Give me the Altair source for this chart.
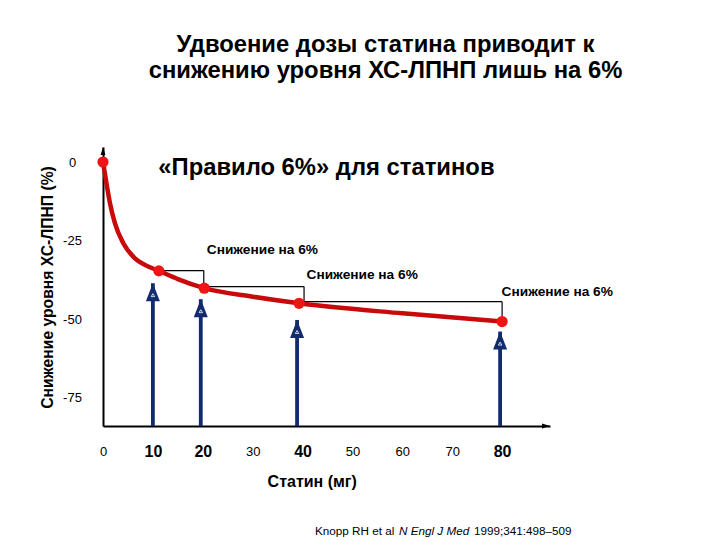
import altair as alt
import pandas as pd

FONT = "Liberation Sans"

# ---- text ----
title_lines = ["Удвоение дозы статина приводит к", "снижению уровня ХС-ЛПНП лишь на 6%"]
subtitle = "«Правило 6%» для статинов"
x_title = "Статин (мг)"
y_title = "Снижение уровня ХС-ЛПНП (%)"
step_label = "Снижение на 6%"
cite_parts = ["Knopp RH et al", "N Engl J Med", "1999;341:498–509"]

# ---- ticks ----
x_ticks = [0, 10, 20, 30, 40, 50, 60, 70, 80]
x_bold_ticks = [10, 20, 40, 80]
y_ticks = [0, -25, -50, -75]

# ---- curve ----
curve_dose = [0, 0.7, 1.4, 2.4, 4.1, 6.4, 8.4, 11.2, 15, 20.3, 30, 39.3, 60, 80]
curve_ldl = [0, -6.8, -13.1, -19.5, -25.9, -30.6, -32.7, -34.6, -37.2, -40.1, -42.8, -44.9, -48.1, -50.7]

# ---- dose points ----
point_dose = [0, 11.2, 20.3, 39.3, 80]
point_ldl = [0, -34.6, -40.1, -44.9, -50.7]

# ---- arrows ----
arrow_dose = [10, 19.6, 38.9, 79.6]
arrow_tip = [-38.5, -43.6, -50.2, -53.9]
axis_bottom = -83.9
axis_top = 4.77
x_max = 89.6

# ---- step brackets ----
bracket_start = [11.2, 20.3, 39.3]
bracket_end = [20.2, 40.3, 80.0]
bracket_top = [-34.5, -39.6, -44.4]
bracket_bottom = [-40.1, -44.9, -50.7]

# ---- step labels ----
label_dose = [20.8, 40.8, 79.9]
label_ldl = [-28.0, -35.9, -41.4]

W, H = 447, 279
RED_LINE = "#c80a0a"
RED_PT = "#f01414"
NAVY = "#112b6e"

x_scale = alt.Scale(domain=[0, x_max], nice=False, zero=False)
y_scale = alt.Scale(domain=[axis_bottom, axis_top], nice=False, zero=False)

bold_test = "indexof([" + ",".join(str(v) for v in x_bold_ticks) + "], datum.value) >= 0"

x_axis = alt.Axis(
    values=x_ticks, title=x_title, grid=False, ticks=False, tickSize=0,
    domainColor="black", domainWidth=2, labelPadding=25, labelBaseline="middle",
    labelFontSize={"condition": {"test": bold_test, "value": 16}, "value": 13},
    labelFontWeight={"condition": {"test": bold_test, "value": "bold"}, "value": "normal"},
    labelColor="black", labelFlush=False, labelOverlap=False,
    titleX=208.7, titleY=55.7, titleBaseline="middle", titleAlign="center",
    titleFontSize=16, titleFontWeight="bold", titleColor="black",
)
y_axis = alt.Axis(
    values=y_ticks, title=y_title, grid=False, ticks=False, tickSize=0,
    domainColor="black", domainWidth=2, labelPadding=31, labelAlign="center",
    labelBaseline="middle", labelFontSize=13, labelColor="black",
    labelExpr="datum.value < 0 ? '-' + abs(datum.value) : '' + datum.value",
    labelFlush=False, labelOverlap=False,
    titleX=-56, titleY=140, titleAngle=270, titleBaseline="middle", titleAlign="center",
    titleFontSize=15.7, titleFontWeight="bold", titleColor="black",
)

curve_df = pd.DataFrame({"dose": curve_dose, "ldl": curve_ldl})
points_df = pd.DataFrame({"dose": point_dose, "ldl": point_ldl})
arrows_df = pd.DataFrame({"dose": arrow_dose, "tip": arrow_tip, "bottom": [axis_bottom] * len(arrow_dose)})
brackets_df = pd.DataFrame({"x0": bracket_start, "x1": bracket_end, "ytop": bracket_top, "ybot": bracket_bottom})
labels_df = pd.DataFrame({"dose": label_dose, "ldl": label_ldl, "t": [step_label] * len(label_dose)})

X = lambda f: alt.X(f, type="quantitative", scale=x_scale, axis=x_axis)
Y = lambda f: alt.Y(f, type="quantitative", scale=y_scale, axis=y_axis)

base_axes = alt.Chart(curve_df).mark_line(opacity=0).encode(x=X("dose"), y=Y("ldl"))

curve = alt.Chart(curve_df).mark_line(
    color=RED_LINE, strokeWidth=4.5, interpolate="monotone"
).encode(x=alt.X("dose:Q", scale=x_scale), y=alt.Y("ldl:Q", scale=y_scale))

shafts = alt.Chart(arrows_df).mark_rule(color=NAVY, strokeWidth=3.8).encode(
    x=alt.X("dose:Q", scale=x_scale), y=alt.Y("tip:Q", scale=y_scale), y2="bottom:Q"
)
heads = alt.Chart(arrows_df).mark_point(
    shape="M0,-1L0.78,1L-0.78,1Z", filled=True, color=NAVY, opacity=1, size=324, yOffset=9
).encode(x=alt.X("dose:Q", scale=x_scale), y=alt.Y("tip:Q", scale=y_scale))
glyphs = alt.Chart(arrows_df).mark_point(
    shape="triangle-up", filled=False, stroke="white", strokeWidth=0.8, size=12, opacity=1, yOffset=12
).encode(x=alt.X("dose:Q", scale=x_scale), y=alt.Y("tip:Q", scale=y_scale))

br_h = alt.Chart(brackets_df).mark_rule(color="black", strokeWidth=1.2).encode(
    x=alt.X("x0:Q", scale=x_scale), x2="x1:Q", y=alt.Y("ytop:Q", scale=y_scale)
)
br_v = alt.Chart(brackets_df).mark_rule(color="black", strokeWidth=1.2).encode(
    x=alt.X("x1:Q", scale=x_scale), y=alt.Y("ytop:Q", scale=y_scale), y2="ybot:Q"
)

points = alt.Chart(points_df).mark_circle(color=RED_PT, size=125, opacity=1).encode(
    x=alt.X("dose:Q", scale=x_scale), y=alt.Y("ldl:Q", scale=y_scale)
)

labels = alt.Chart(labels_df).mark_text(
    align="left", baseline="middle", fontSize=13.7, fontWeight="bold", color="black", font=FONT
).encode(x=alt.X("dose:Q", scale=x_scale), y=alt.Y("ldl:Q", scale=y_scale), text="t:N")

one = pd.DataFrame({"k": [0]})
y_arrow = alt.Chart(one).mark_point(
    shape="M0,-1L0.6,1L-0.6,1Z", filled=True, color="black", opacity=1, size=64
).encode(x=alt.value(0), y=alt.value(4))
x_arrow = alt.Chart(one).mark_point(
    shape="M1,0L-1,0.6L-1,-0.6Z", filled=True, color="black", opacity=1, size=64
).encode(x=alt.value(W - 4), y=alt.value(H))


def txt(s, x, y, size, weight="bold", align="center", style="normal"):
    return alt.Chart(pd.DataFrame({"t": [s]})).mark_text(
        align=align, baseline="middle", fontSize=size, fontWeight=weight,
        fontStyle=style, color="black", font=FONT
    ).encode(text="t:N", x=alt.value(x), y=alt.value(y))


title1 = txt(title_lines[0], 282.5, -102, 23.8)
title2 = txt(title_lines[1], 282.5, -76.3, 23.8)
sub = txt(subtitle, 55.3, 21.3, 23.8, align="left")
cite1 = txt(cite_parts[0], 212, 383.7, 11.7, weight="normal", align="left")
cite2 = txt(cite_parts[1], 296, 383.7, 11.7, weight="normal", align="left", style="italic")
cite3 = txt(cite_parts[2], 371, 383.7, 11.7, weight="normal", align="left")

chart = alt.layer(
    base_axes, br_h, br_v, shafts, heads, glyphs, curve, points, labels,
    y_arrow, x_arrow, title1, title2, sub, cite1, cite2, cite3
).properties(
    width=W, height=H,
    autosize=alt.AutoSizeParams(type="none"),
    padding={"left": 103, "top": 147, "right": 170, "bottom": 114},
    background="white",
).configure(font=FONT).configure_view(stroke=None, strokeWidth=0)

chart.save("out.html", embed_options={"renderer": "svg", "actions": False})
